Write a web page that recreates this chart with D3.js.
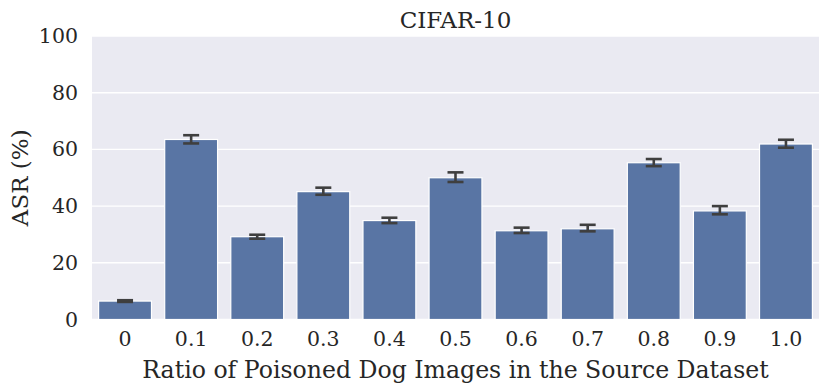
<!DOCTYPE html>
<meta charset="utf-8">
<style>
body { margin: 0; background: #fff; }
text { font-family: "DejaVu Serif", serif; fill: #262626; }
</style>
<body>
<script src="https://d3js.org/d3.v7.min.js"></script>
<script>

// data
var ratios = ["0", "0.1", "0.2", "0.3", "0.4", "0.5", "0.6", "0.7", "0.8", "0.9", "1.0"];
var asr    = [6.5, 63.5, 29.2, 45.1, 34.9, 50.0, 31.3, 32.0, 55.3, 38.3, 61.9];
var errLo  = [6.2, 62.1, 28.5, 44.0, 34.0, 48.5, 30.5, 31.1, 54.1, 37.1, 60.6];
var errHi  = [6.8, 65.0, 29.9, 46.5, 35.9, 51.9, 32.4, 33.4, 56.6, 40.0, 63.4];
var yTicks = [0, 20, 40, 60, 80, 100];

var W = 830, H = 391;
var margin = {top: 36, right: 11, bottom: 71.5, left: 92},
    width = W - margin.left - margin.right,
    height = H - margin.top - margin.bottom;

var svg = d3.select("body").append("svg")
    .attr("width", W)
    .attr("height", H);

var g = svg.append("g")
    .attr("transform", "translate(" + margin.left + "," + margin.top + ")");

var x = d3.scaleBand()
    .domain(ratios)
    .range([0, width])
    .paddingInner(0.2)
    .paddingOuter(0.1);

var y = d3.scaleLinear()
    .domain([0, 100])
    .range([height, 0]);

// background + grid
g.append("rect")
    .attr("width", width)
    .attr("height", height)
    .attr("fill", "#eaeaf2");

g.selectAll(".grid")
    .data(yTicks)
  .enter().append("line")
    .attr("x1", 0)
    .attr("x2", width)
    .attr("y1", function(d) { return y(d); })
    .attr("y2", function(d) { return y(d); })
    .attr("stroke", "#fff")
    .attr("stroke-width", 1.4);

var rows = ratios.map(function(r, i) {
  return {r: r, v: asr[i], lo: errLo[i], hi: errHi[i]};
});

g.selectAll(".bar")
    .data(rows)
  .enter().append("rect")
    .attr("class", "bar")
    .attr("x", function(d) { return x(d.r); })
    .attr("width", x.bandwidth())
    .attr("y", function(d) { return y(d.v); })
    .attr("height", function(d) { return y(0) - y(d.v); })
    .attr("fill", "#5975a4")
    .attr("stroke", "#fff")
    .attr("stroke-width", 1.2);

// error bars
var eb = g.selectAll(".err")
    .data(rows)
  .enter().append("g")
    .attr("transform", function(d) { return "translate(" + (x(d.r) + x.bandwidth() / 2) + ",0)"; })
    .attr("stroke", "#3f3f3f")
    .attr("stroke-width", 2.6);

eb.append("line")
    .attr("y1", function(d) { return y(d.lo); })
    .attr("y2", function(d) { return y(d.hi); });
eb.append("line")
    .attr("x1", -8).attr("x2", 8)
    .attr("y1", function(d) { return y(d.lo); })
    .attr("y2", function(d) { return y(d.lo); });
eb.append("line")
    .attr("x1", -8).attr("x2", 8)
    .attr("y1", function(d) { return y(d.hi); })
    .attr("y2", function(d) { return y(d.hi); });

// axes (no lines, only labels)
var xAxis = g.append("g")
    .attr("transform", "translate(0," + height + ")")
    .call(d3.axisBottom(x).tickSize(0).tickPadding(12));
var yAxis = g.append("g")
    .call(d3.axisLeft(y).tickValues(yTicks).tickSize(0).tickPadding(14));

[xAxis, yAxis].forEach(function(a) {
  a.select(".domain").remove();
  a.attr("font-family", null).attr("font-size", null);
  a.selectAll("text")
    .style("font-family", "DejaVu Serif")
    .style("font-size", "20.5px")
    .attr("fill", "#262626");
});

svg.append("text")
    .attr("x", margin.left + width / 2)
    .attr("y", 28)
    .attr("text-anchor", "middle")
    .style("font-size", "23px")
    .text("CIFAR-10");

svg.append("text")
    .attr("x", margin.left + width / 2)
    .attr("y", 378)
    .attr("text-anchor", "middle")
    .style("font-size", "23.6px")
    .text("Ratio of Poisoned Dog Images in the Source Dataset");

svg.append("text")
    .attr("transform", "translate(28," + (margin.top + height / 2) + ") rotate(-90)")
    .attr("text-anchor", "middle")
    .style("font-size", "23px")
    .text("ASR (%)");

</script>
</body>
